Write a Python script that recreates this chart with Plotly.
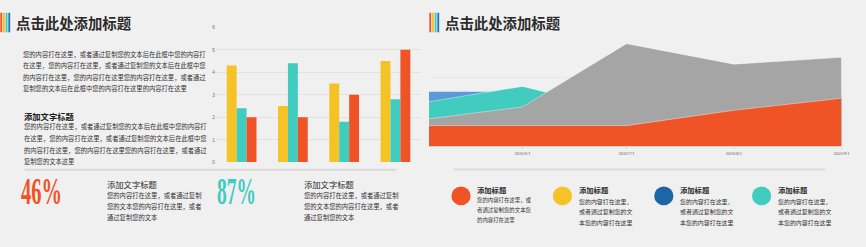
import plotly.graph_objects as go

W, H = 866, 247

# ---------------- data ----------------
bar_categories = ["类别1", "类别2", "类别3", "类别4"]
bar_series_names = ["系列1", "系列2", "系列3"]
bar_series1 = [4.3, 2.5, 3.5, 4.5]
bar_series2 = [2.4, 4.4, 1.8, 2.8]
bar_series3 = [2.0, 2.0, 3.0, 5.0]
bar_tickvals = [0, 1, 2, 3, 4, 5, 6]

area_dates = ["2016-05-05", "2016-06-01", "2016-07-01", "2016-08-01", "2016-09-01"]
area_blue = [3.2, 3.2, 2.5, 2.8, 3.0]
area_teal = [2.6, 3.5, 2.0, 2.6, 3.0]
area_gray = [1.6, 2.3, 6.0, 4.8, 5.2]
area_orange = [1.2, 1.2, 1.2, 2.1, 2.8]
area_tick_dates = ["2016-06-01", "2016-07-01", "2016-08-01", "2016-09-01"]
area_tick_labels = ["2016/6/1", "2016/7/1", "2016/8/1", "2016/9/1"]

title_text = "点击此处添加标题"
para1_lines = [
    "您的内容打在这里，或者通过复制您的文本后在此框中您的内容打",
    "在这里，您的内容打在这里，或者通过复制您的文本后在此框中您",
    "的内容打在这里，您的内容打在这里您的内容打在这里，或者通过",
    "复制您的文本后在此框中您的内容打在这里的内容打在这里",
]
sub_heading = "添加文字标题"
para2_lines = [
    "您的内容打在这里，或者通过复制您的文本后在此框中您的内容打",
    "在这里，您的内容打在这里，或者通过复制您的文本后在此框中您",
    "的内容打在这里，您的内容打在这里您的内容打在这里，或者通过",
    "复制您的文本这里",
]
pct_values = ["46%", "87%"]
pct_lines = [
    "您的内容打在这里，或者通过复制",
    "您的文本您的内容打在这里，或者",
    "通过复制您的文本",
]
legend_heading = "添加标题"
legend_item1_lines = ["您的内容打在这里，或", "者通过复制您的文本您", "的内容打在这里"]
legend_item_lines = ["您的内容打在这里，", "或者通过复制您的文", "本您的内容打在这里"]

# ---------------- style ----------------
BG = "#F0F0F0"
ORANGE = "#F05325"
YELLOW = "#F5C325"
TEAL = "#42CBBF"
GRAY = "#A5A5A5"
BLUE = "#5B9BD5"
DBLUE = "#1C67A3"
STRIPE_BLUE = "#2A75B8"
TXT = "#333333"
DARK = "#2B2B2B"
CJK = "Noto Sans CJK SC"
NUM_FONT = "Liberation Serif, serif"


def px(x):
    return x / W


def py(y):
    return 1 - y / H


fig = go.Figure()

# bar chart
for name, vals, col in zip(bar_series_names, [bar_series1, bar_series2, bar_series3], [YELLOW, TEAL, ORANGE]):
    fig.add_trace(go.Bar(x=bar_categories, y=vals, name=name, marker=dict(color=col, line=dict(width=0)),
                         xaxis="x", yaxis="y"))

# area chart (overlapping, drawn back to front)
for vals, col in [(area_blue, BLUE), (area_teal, TEAL), (area_gray, GRAY), (area_orange, ORANGE)]:
    fig.add_trace(go.Scatter(x=area_dates, y=vals, mode="lines", fill="tozeroy", fillcolor=col,
                             line=dict(width=0.8, color="rgba(255,255,255,0.5)"),
                             xaxis="x2", yaxis="y2", hoverinfo="skip"))

annotations = []


def txt(x, y, s, size, color=TXT, bold=False, family=CJK):
    annotations.append(dict(x=px(x), y=py(y), xref="paper", yref="paper",
                            text=(f"<b>{s}</b>" if bold else s), showarrow=False,
                            xanchor="left", yanchor="middle", borderpad=0,
                            font=dict(size=size, color=color, family=family)))


# titles
txt(15.5, 20, title_text, 14.4, DARK, bold=True)
txt(448.5, 20, title_text, 14.4, DARK, bold=True)

# left paragraph 1
for i, line in enumerate(para1_lines):
    txt(22, 52.5 + i * 11.7, line, 6.3)

# heading + paragraph 2
txt(23, 116, sub_heading, 8.3, "#1A1A1A", bold=True)
for i, line in enumerate(para2_lines):
    txt(23, 127 + i * 11.9, line, 6.3)

# percent blocks (condensed via post script)
txt(20, 193.5, pct_values[0], 37, ORANGE, bold=True, family=NUM_FONT)
txt(218.3, 193.5, pct_values[1], 37, TEAL, bold=True, family=NUM_FONT)
for bx in [106.5, 305.5]:
    txt(bx, 186, sub_heading, 8.3, DARK)
    for i, line in enumerate(pct_lines):
        txt(bx, 197.5 + i * 11, line, 6.3)

# legend items (right)
legend_cx = [465.3, 567.7, 670, 768.7]
legend_cols = [ORANGE, YELLOW, DBLUE, TEAL]
shapes = []
for k, (cx, col) in enumerate(zip(legend_cx, legend_cols)):
    r = 9.7
    shapes.append(dict(type="circle", xref="paper", yref="paper",
                       x0=px(cx - r), x1=px(cx + r), y0=py(197.7 + r), y1=py(197.7 - r),
                       fillcolor=col, line=dict(width=0)))
    tx = cx + 15.3
    txt(tx, 191.7, legend_heading, 7.3, DARK, bold=True)
    if k == 0:
        for i, line in enumerate(legend_item1_lines):
            txt(tx, 202.3 + i * 9.9, line, 5.4)
    else:
        for i, line in enumerate(legend_item_lines):
            txt(tx, 203 + i * 10.8, line, 5.95)

# colour stripes beside titles
stripe_cols = [ORANGE, YELLOW, TEAL, STRIPE_BLUE]
for base in [0.3, 433.3]:
    for j, col in enumerate(stripe_cols):
        x0 = base + j * 2.7
        shapes.append(dict(type="rect", xref="paper", yref="paper",
                           x0=px(x0), x1=px(x0 + 1.9), y0=py(30), y1=py(10),
                           fillcolor=col, line=dict(width=0)))

# separator lines
shapes.append(dict(type="line", xref="paper", yref="paper", x0=px(25), x1=px(400), y0=py(171), y1=py(171),
                   line=dict(color="#DADADA", width=2)))
shapes.append(dict(type="line", xref="paper", yref="paper", x0=px(458), x1=px(833), y0=py(170.7), y1=py(170.7),
                   line=dict(color="#DADADA", width=2)))

fig.update_layout(
    width=W, height=H, margin=dict(l=0, r=0, t=0, b=0),
    paper_bgcolor=BG, plot_bgcolor="rgba(0,0,0,0)",
    showlegend=False, barmode="group", bargap=0.42, bargroupgap=0,
    annotations=annotations, shapes=shapes,
    xaxis=dict(domain=[px(218), px(425)], showticklabels=False, showgrid=False, zeroline=False,
               showline=False, ticks=""),
    yaxis=dict(domain=[py(163), py(25)], range=[0, 6], tickvals=bar_tickvals, showgrid=True,
               gridcolor="#E2E2E2", gridwidth=1, zeroline=False, showline=False, ticks="",
               tickfont=dict(size=5.5, color="#7F7F7F", family="Liberation Sans"), anchor="x"),
    xaxis2=dict(domain=[px(433), px(849.3)], type="date", range=[area_dates[0], area_dates[-1]],
                tickvals=area_tick_dates, ticktext=area_tick_labels, showgrid=False, zeroline=False,
                showline=True, linecolor="#D6D6D6", linewidth=1, ticks="outside", ticklen=2,
                tickcolor="#D6D6D6", tickfont=dict(size=4.5, color="#595959", family="Liberation Serif"),
                anchor="y2"),
    yaxis2=dict(domain=[py(146.7), py(41.7)], range=[0, 6], dtick=2, showticklabels=False,
                showgrid=True, gridcolor="#E8E8E8", zeroline=False, showline=False, ticks="",
                anchor="x2"),
)

# condense the big percentage numbers horizontally to the reference widths
post_js = """
var gd = document.getElementById('{plot_id}');
var targets = {'46%': 41, '87%': 39};
function condense() {
  gd.querySelectorAll('text.annotation-text').forEach(function (t) {
    var s = t.textContent;
    if (targets[s] !== undefined) {
      t.style.transform = '';
      var w = t.getBBox().width;
      if (w > 0) {
        var k = targets[s] / w;
        t.style.transformBox = 'fill-box';
        t.style.transformOrigin = '0% 50%';
        t.style.transform = 'scaleX(' + k + ')';
      }
    }
  });
}
condense();
gd.on('plotly_afterplot', condense);
"""

fig.write_html("out.html", post_script=post_js)
